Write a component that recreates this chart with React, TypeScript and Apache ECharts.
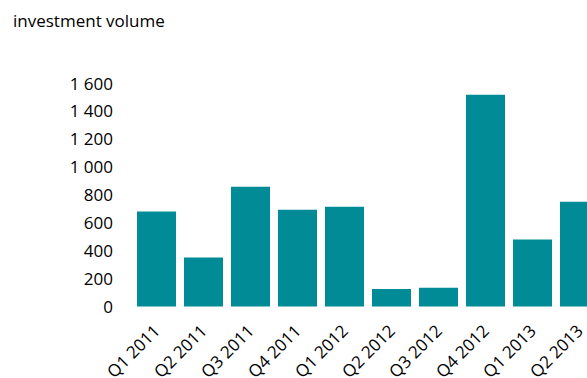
import React, { useEffect, useRef } from "react";
import * as echarts from "echarts";

const categories = ["Q1 2011", "Q2 2011", "Q3 2011", "Q4 2011", "Q1 2012", "Q2 2012", "Q3 2012", "Q4 2012", "Q1 2013", "Q2 2013"];
const investmentVolume = [680, 350, 857, 692, 714, 125, 134, 1515, 479, 750];
const yMin = 0;
const yMax = 1600;
const yInterval = 200;
const titleText = "investment volume";

const fmt = (v: number) => String(v).replace(/\B(?=(\d{3})+(?!\d))/g, " ");

export default function App() {
  const ref = useRef<HTMLDivElement>(null);
  useEffect(() => {
    if (!ref.current) return;
    const chart = echarts.init(ref.current, undefined, { renderer: "svg" });
    chart.setOption({
      animation: false,
      backgroundColor: "#ffffff",
      title: {
        text: titleText,
        left: 8,
        top: 7,
        textStyle: { fontFamily: "Open Sans", fontSize: 17, fontWeight: "normal", color: "#000" },
      },
      grid: { left: 133, top: 83, width: 470, height: 223.5, outerBoundsMode: "none", containLabel: false },
      xAxis: {
        type: "category",
        data: categories,
        axisLine: { show: false },
        axisTick: { show: false },
        axisLabel: {
          rotate: 45,
          interval: 0,
          margin: 21,
          fontFamily: "Open Sans",
          fontSize: 17,
          color: "#000",
          hideOverlap: false,
        },
      },
      yAxis: {
        type: "value",
        min: yMin,
        max: yMax,
        interval: yInterval,
        splitLine: { show: false },
        axisLine: { show: false },
        axisTick: { show: false },
        axisLabel: {
          margin: 20,
          fontFamily: "Open Sans",
          fontSize: 17,
          color: "#000",
          formatter: (v: number) => fmt(v),
        },
      },
      series: [
        {
          type: "bar",
          data: investmentVolume,
          barCategoryGap: "17%",
          itemStyle: { color: "#008B96" },
        },
      ],
    });
    return () => chart.dispose();
  }, []);
  return <div ref={ref} style={{ position: "fixed", left: 0, top: 0, width: 587, height: 378 }} />;
}
